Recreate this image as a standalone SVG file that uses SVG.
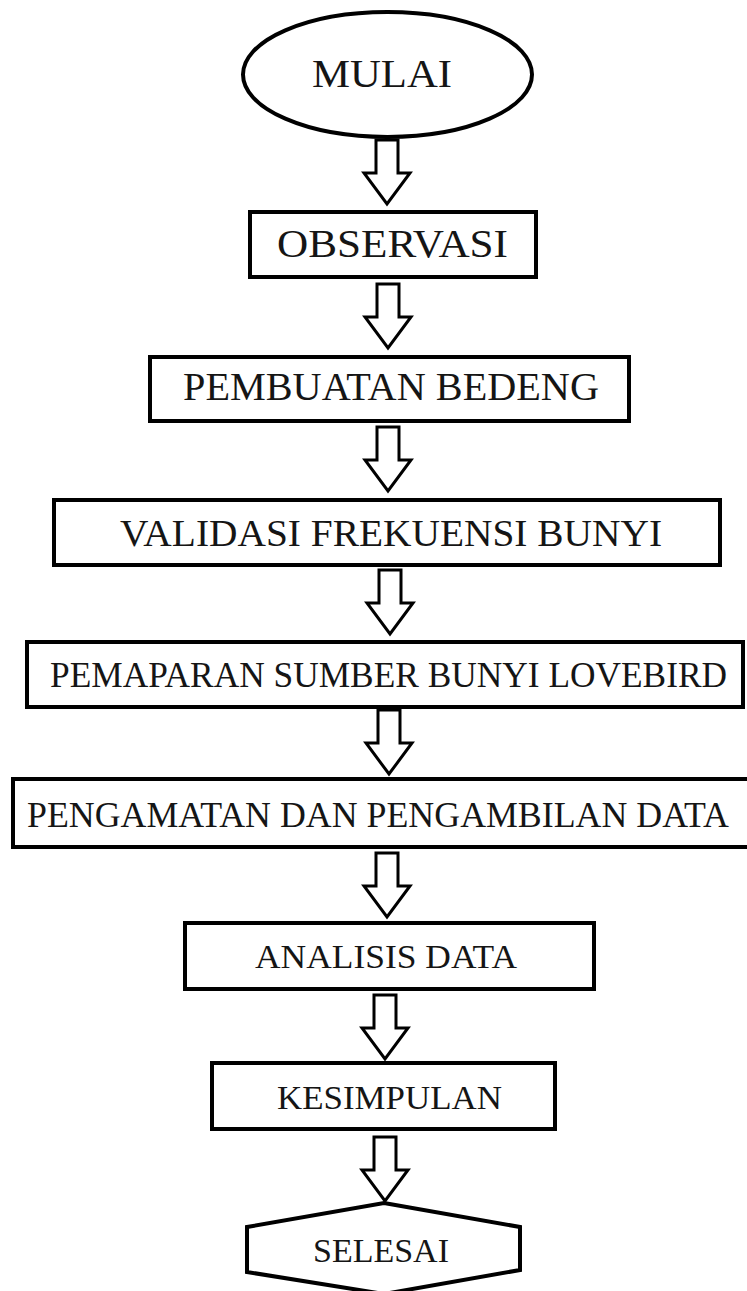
<svg xmlns="http://www.w3.org/2000/svg" width="747" height="1291" viewBox="0 0 747 1291">
<style>
.shape{fill:#fff;stroke:#000;stroke-width:4}
.arrow{fill:#fff;stroke:#000;stroke-width:3;stroke-linejoin:miter}
.label{font-family:"Liberation Serif","Times New Roman",serif;fill:#151515}
</style>
<defs>
<polygon id="arr" class="arrow" points="-11,0 11,0 11,33 23,33 0,64 -23,33 -11,33"/>
</defs>
<rect width="747" height="1291" fill="#fff"/>
<g id="connectors">
<use href="#arr" x="387" y="140"/>
<use href="#arr" x="388" y="284"/>
<use href="#arr" x="388" y="427"/>
<use href="#arr" x="390" y="570"/>
<use href="#arr" x="389" y="710"/>
<use href="#arr" x="387" y="853"/>
<use href="#arr" x="385" y="995"/>
<use href="#arr" x="385" y="1137"/>
</g>
<g id="mulai">
<ellipse class="shape" cx="387.5" cy="74.5" rx="144.5" ry="62.5" stroke-width="3"/>
<text class="label" x="312" y="87" font-size="39" textLength="140" lengthAdjust="spacingAndGlyphs">MULAI</text>
</g>
<g id="observasi">
<rect class="shape" x="250" y="212" width="286" height="65"/>
<text class="label" x="277" y="257" font-size="40" textLength="231" lengthAdjust="spacingAndGlyphs">OBSERVASI</text>
</g>
<g id="pembuatan">
<rect class="shape" x="150" y="357" width="479" height="64" stroke-width="5"/>
<text class="label" x="183" y="400" font-size="39.5" textLength="416" lengthAdjust="spacingAndGlyphs">PEMBUATAN BEDENG</text>
</g>
<g id="validasi">
<rect class="shape" x="54" y="500" width="666" height="65"/>
<text class="label" x="120" y="546" font-size="38" textLength="542" lengthAdjust="spacingAndGlyphs">VALIDASI FREKUENSI BUNYI</text>
</g>
<g id="pemaparan">
<rect class="shape" x="27" y="642" width="716" height="65"/>
<text class="label" x="50" y="687" font-size="35.2" textLength="677" lengthAdjust="spacingAndGlyphs">PEMAPARAN SUMBER BUNYI LOVEBIRD</text>
</g>
<g id="pengamatan">
<rect class="shape" x="13" y="779" width="738" height="68"/>
<text class="label" x="27" y="827" font-size="35" textLength="702" lengthAdjust="spacingAndGlyphs">PENGAMATAN DAN PENGAMBILAN DATA</text>
</g>
<g id="analisis">
<rect class="shape" x="185" y="923" width="409" height="66"/>
<text class="label" x="255" y="968" font-size="33" textLength="262" lengthAdjust="spacingAndGlyphs">ANALISIS DATA</text>
</g>
<g id="kesimpulan">
<rect class="shape" x="212" y="1063" width="343" height="66"/>
<text class="label" x="277" y="1109" font-size="34" textLength="225" lengthAdjust="spacingAndGlyphs">KESIMPULAN</text>
</g>
<g id="selesai">
<polygon class="shape" points="384,1203 520,1227 520,1270 384,1294 247,1272 247,1227"/>
<text class="label" x="313" y="1262" font-size="34" textLength="136" lengthAdjust="spacingAndGlyphs">SELESAI</text>
</g>
</svg>
